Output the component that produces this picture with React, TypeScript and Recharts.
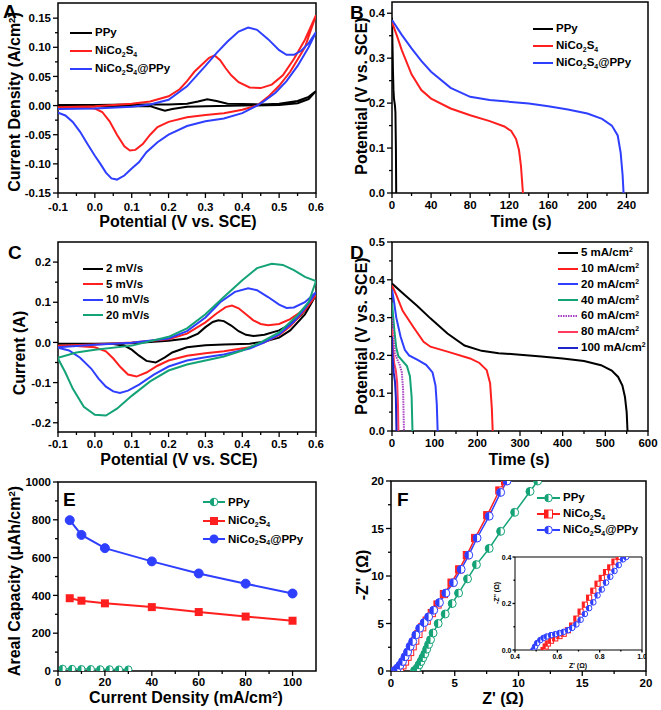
import React from 'react'
import { LineChart, Line, XAxis, YAxis, ReferenceArea, Legend } from 'recharts'

const FONT = "'Liberation Sans', Arial, Helvetica, sans-serif"
const BLACK = '#000000'
const RED = '#ff1f1f'
const BLUE = '#2f3fff'
const GREEN = '#14a277'
const PURPLE = '#a83fc2'
const PINK = '#ff3a5e'
const NAVY = '#1d25c9'

type Pt = [number, number]
const toXY = (a: Pt[]) => a.map(([x, y]) => ({ x, y }))

// ---- A: CV of the three electrodes ----
const aPpy: Pt[] = [[-0.1, 0.001], [0.0, 0.001], [0.1, 0.002], [0.2, 0.002], [0.25, 0.003], [0.28, 0.007], [0.305, 0.011], [0.33, 0.008], [0.36, 0.003], [0.45, 0.002], [0.5, 0.003], [0.55, 0.008], [0.58, 0.015], [0.6, 0.025],
  [0.58, 0.011], [0.55, 0.004], [0.5, 0.001], [0.4, 0.0], [0.3, -0.001], [0.25, -0.002], [0.21, -0.006], [0.19, -0.009], [0.17, -0.005], [0.15, -0.001], [0.1, -0.001], [0.0, -0.001], [-0.1, -0.001]]
const aNico: Pt[] = [[-0.1, -0.003], [0.0, -0.001], [0.1, 0.003], [0.15, 0.007], [0.2, 0.016], [0.23, 0.028], [0.25, 0.042], [0.27, 0.058], [0.29, 0.07], [0.31, 0.082], [0.325, 0.086], [0.34, 0.078], [0.355, 0.064], [0.37, 0.052], [0.39, 0.04], [0.42, 0.031], [0.45, 0.03], [0.48, 0.036], [0.51, 0.052], [0.54, 0.08], [0.57, 0.113], [0.6, 0.155],
  [0.57, 0.1], [0.53, 0.058], [0.5, 0.034], [0.47, 0.015], [0.44, 0.0], [0.4, -0.007], [0.35, -0.013], [0.3, -0.016], [0.25, -0.02], [0.2, -0.028], [0.17, -0.037], [0.15, -0.05], [0.13, -0.066], [0.11, -0.076], [0.095, -0.077], [0.08, -0.07], [0.06, -0.05], [0.04, -0.027], [0.02, -0.011], [0.0, -0.005], [-0.05, -0.003], [-0.1, -0.003]]
const aNicoPpy: Pt[] = [[-0.1, -0.006], [0.0, -0.005], [0.1, -0.002], [0.15, 0.002], [0.2, 0.01], [0.25, 0.033], [0.3, 0.068], [0.33, 0.09], [0.36, 0.11], [0.39, 0.127], [0.416, 0.134], [0.44, 0.13], [0.47, 0.114], [0.5, 0.095], [0.52, 0.087], [0.54, 0.087], [0.56, 0.094], [0.58, 0.107], [0.6, 0.126],
  [0.58, 0.1], [0.55, 0.068], [0.52, 0.042], [0.49, 0.022], [0.46, 0.008], [0.44, 0.0], [0.4, -0.013], [0.35, -0.022], [0.3, -0.027], [0.25, -0.035], [0.2, -0.05], [0.17, -0.063], [0.14, -0.08], [0.12, -0.097], [0.1, -0.108], [0.08, -0.12], [0.06, -0.127], [0.045, -0.125], [0.03, -0.115], [0.015, -0.1], [0.0, -0.086], [-0.02, -0.066], [-0.04, -0.045], [-0.06, -0.028], [-0.08, -0.017], [-0.1, -0.012]]

// ---- B: discharge curves ----
const bPpy: Pt[] = [[0, 0.39], [0.5, 0.33], [1, 0.27], [1.5, 0.23], [2, 0.21], [3, 0.195], [3.5, 0.18], [4, 0.1], [4.3, 0]]
const bNico: Pt[] = [[0, 0.38], [5, 0.35], [10, 0.318], [20, 0.264], [30, 0.229], [40, 0.21], [60, 0.188], [80, 0.173], [100, 0.16], [115, 0.148], [122, 0.138], [127, 0.12], [130, 0.095], [132, 0.06], [133, 0.03], [134, 0]]
const bNicoPpy: Pt[] = [[0, 0.385], [10, 0.352], [20, 0.322], [30, 0.294], [40, 0.27], [60, 0.234], [80, 0.214], [100, 0.207], [140, 0.199], [160, 0.193], [180, 0.186], [200, 0.177], [215, 0.165], [225, 0.15], [231, 0.128], [234, 0.09], [236, 0.04], [237, 0]]

// ---- C: CV at different scan rates ----
const c2: Pt[] = [[-0.1, -0.003], [0.0, -0.003], [0.1, -0.002], [0.2, 0.004], [0.25, 0.01], [0.28, 0.022], [0.3, 0.038], [0.32, 0.051], [0.335, 0.055], [0.35, 0.053], [0.37, 0.042], [0.39, 0.028], [0.41, 0.019], [0.43, 0.016], [0.46, 0.019], [0.5, 0.03], [0.53, 0.045], [0.56, 0.068], [0.6, 0.118],
  [0.57, 0.07], [0.53, 0.03], [0.5, 0.012], [0.46, 0.002], [0.42, -0.003], [0.35, -0.005], [0.3, -0.007], [0.25, -0.012], [0.21, -0.025], [0.19, -0.037], [0.165, -0.05], [0.14, -0.046], [0.12, -0.033], [0.1, -0.018], [0.08, -0.008], [0.05, -0.004], [0.0, -0.003], [-0.1, -0.003]]
const c5: Pt[] = [[-0.1, -0.008], [0.0, -0.005], [0.1, 0.0], [0.2, 0.008], [0.25, 0.022], [0.3, 0.05], [0.33, 0.072], [0.355, 0.088], [0.372, 0.092], [0.39, 0.085], [0.41, 0.07], [0.43, 0.055], [0.45, 0.046], [0.47, 0.043], [0.5, 0.046], [0.53, 0.058], [0.56, 0.077], [0.6, 0.117],
  [0.57, 0.08], [0.53, 0.04], [0.5, 0.018], [0.46, 0.0], [0.42, -0.012], [0.35, -0.022], [0.3, -0.027], [0.25, -0.033], [0.2, -0.045], [0.17, -0.058], [0.14, -0.075], [0.113, -0.085], [0.09, -0.08], [0.07, -0.062], [0.05, -0.04], [0.03, -0.022], [0.0, -0.012], [-0.05, -0.009], [-0.1, -0.008]]
const c10: Pt[] = [[-0.1, -0.012], [0.0, -0.006], [0.1, -0.001], [0.2, 0.01], [0.25, 0.028], [0.3, 0.062], [0.34, 0.1], [0.38, 0.126], [0.416, 0.135], [0.44, 0.13], [0.47, 0.113], [0.5, 0.094], [0.52, 0.086], [0.54, 0.087], [0.57, 0.1], [0.6, 0.125],
  [0.57, 0.085], [0.54, 0.052], [0.5, 0.02], [0.46, 0.0], [0.42, -0.015], [0.35, -0.03], [0.3, -0.037], [0.25, -0.045], [0.2, -0.06], [0.16, -0.08], [0.12, -0.105], [0.09, -0.12], [0.068, -0.126], [0.05, -0.122], [0.03, -0.11], [0.01, -0.09], [-0.01, -0.065], [-0.04, -0.038], [-0.07, -0.02], [-0.1, -0.013]]
const c20: Pt[] = [[-0.1, -0.038], [-0.05, -0.025], [0.0, -0.018], [0.1, -0.008], [0.2, 0.014], [0.25, 0.035], [0.3, 0.07], [0.35, 0.113], [0.4, 0.155], [0.44, 0.185], [0.48, 0.196], [0.51, 0.193], [0.54, 0.18], [0.57, 0.163], [0.6, 0.153],
  [0.58, 0.1], [0.55, 0.068], [0.5, 0.025], [0.45, 0.0], [0.4, -0.02], [0.35, -0.035], [0.3, -0.045], [0.25, -0.055], [0.2, -0.07], [0.15, -0.097], [0.1, -0.133], [0.06, -0.165], [0.03, -0.182], [0.0, -0.18], [-0.03, -0.16], [-0.06, -0.115], [-0.08, -0.075], [-0.1, -0.04]]

// ---- D: discharge at different current densities ----
const d5: Pt[] = [[0, 0.39], [30, 0.36], [60, 0.33], [90, 0.298], [130, 0.258], [170, 0.226], [210, 0.212], [250, 0.206], [300, 0.202], [350, 0.197], [400, 0.192], [450, 0.185], [490, 0.174], [515, 0.16], [530, 0.143], [540, 0.12], [546, 0.09], [550, 0.05], [552, 0]]
const d10: Pt[] = [[0, 0.385], [10, 0.36], [25, 0.318], [50, 0.275], [74, 0.236], [90, 0.223], [130, 0.21], [183, 0.192], [205, 0.18], [222, 0.161], [230, 0.126], [234, 0.06], [236, 0]]
const d20: Pt[] = [[0, 0.375], [5, 0.34], [10, 0.3], [20, 0.25], [30, 0.215], [40, 0.2], [60, 0.188], [80, 0.175], [95, 0.155], [102, 0.12], [105, 0.07], [107, 0]]
const d40: Pt[] = [[0, 0.34], [3, 0.3], [6, 0.26], [10, 0.22], [15, 0.198], [25, 0.185], [35, 0.172], [42, 0.145], [46, 0.09], [48, 0]]
const d60: Pt[] = [[0, 0.3], [3, 0.25], [7, 0.205], [12, 0.19], [18, 0.175], [23, 0.155], [26, 0.11], [28, 0]]
const d80: Pt[] = [[0, 0.27], [2, 0.22], [5, 0.18], [9, 0.16], [12, 0.13], [14, 0.07], [15, 0]]
const d100: Pt[] = [[0, 0.25], [1.5, 0.19], [4, 0.155], [7, 0.13], [9, 0.09], [10.5, 0]]

// ---- E: areal capacity ----
const eDensity = [5, 10, 20, 40, 60, 80, 100]
const eNicoPpy = [798, 720, 650, 580, 516, 462, 410]
const eNico = [385, 372, 358, 338, 312, 288, 266]
const ePpyDensity = [2, 6, 10, 14, 18, 22, 26, 30]
const ePpy = [12, 11, 10, 10, 9, 9, 8, 8]

// ---- F: Nyquist plots ----
const fPpy: Pt[] = [[1.85, 0.05], [2.05, 0.3], [2.2, 0.65], [2.35, 1.0], [2.5, 1.4], [2.65, 1.8], [2.8, 2.3], [2.95, 2.8], [3.1, 3.3], [3.3, 4.0], [3.7, 5.0], [4.25, 6.0], [4.8, 7.1], [5.3, 8.2], [6.0, 9.7], [6.7, 11.2], [7.7, 12.9], [8.6, 14.7], [9.7, 16.7], [10.9, 18.9], [11.5, 20]]
const fNico: Pt[] = [[0.45, 0.05], [0.7, 0.3], [0.9, 0.6], [1.1, 1.0], [1.3, 1.5], [1.5, 2.0], [1.7, 2.6], [1.9, 3.2], [2.15, 3.9], [2.45, 4.6], [2.8, 5.3], [3.2, 6.1], [3.65, 7.0], [4.15, 8.1], [4.75, 9.3], [5.35, 10.7], [5.95, 12.2], [6.6, 14.0], [7.55, 16.4], [8.5, 19.0], [8.95, 20]]
const fNicoPpy: Pt[] = [[0.3, 0.05], [0.5, 0.3], [0.7, 0.6], [0.9, 1.0], [1.1, 1.5], [1.3, 2.0], [1.5, 2.6], [1.7, 3.1], [1.95, 3.8], [2.25, 4.5], [2.6, 5.1], [2.95, 5.7], [3.35, 6.4], [3.8, 7.2], [4.3, 8.2], [4.9, 9.3], [5.5, 10.7], [6.1, 12.2], [6.75, 14.0], [7.7, 16.3], [8.6, 18.8], [9.1, 20]]
const iNico: Pt[] = [[0.535, 0.0], [0.545, 0.015], [0.555, 0.028], [0.57, 0.04], [0.59, 0.05], [0.61, 0.06], [0.63, 0.07], [0.65, 0.085], [0.67, 0.105], [0.69, 0.135], [0.71, 0.165], [0.73, 0.195], [0.75, 0.225], [0.77, 0.255], [0.79, 0.285], [0.81, 0.31], [0.83, 0.335], [0.85, 0.355], [0.87, 0.38], [0.89, 0.4]]
const iNicoPpy: Pt[] = [[0.487, 0.0], [0.495, 0.015], [0.505, 0.03], [0.52, 0.043], [0.535, 0.052], [0.55, 0.058], [0.57, 0.064], [0.59, 0.068], [0.61, 0.073], [0.63, 0.078], [0.65, 0.085], [0.67, 0.095], [0.69, 0.11], [0.71, 0.13], [0.73, 0.155], [0.75, 0.18], [0.77, 0.205], [0.79, 0.235], [0.81, 0.26], [0.83, 0.29], [0.85, 0.315], [0.87, 0.34], [0.89, 0.365], [0.91, 0.39], [0.925, 0.4]]

const Sub = ({ c }: { c: string }) => <span style={{ fontSize: '0.6em', position: 'relative', top: '0.4em' }}>{c}</span>
const Sup = ({ c }: { c: string }) => <span style={{ fontSize: '0.6em', position: 'relative', top: '-0.55em' }}>{c}</span>
const NICO = <>NiCo<Sub c="2" />S<Sub c="4" /></>
const NICOPPY = <>NiCo<Sub c="2" />S<Sub c="4" />@PPy</>

const fixed = (n: number) => (v: number) => v.toFixed(n)
const plain = (v: number) => String(v)

const makeTick = (dir: 'x' | 'y', majors: number[], fmt: (v: number) => string, fs: number, len: number, minLen: number, off: number) => (p: any) => {
  const v = p.payload.value
  const major = majors.some(m => Math.abs(m - v) < 1e-9)
  const l = major ? len : minLen
  const txt = { fill: '#000', fontSize: fs, fontWeight: 700, fontFamily: FONT }
  if (dir === 'x') {
    return (
      <g>
        <line x1={p.x} y1={p.y} x2={p.x} y2={p.y + l} stroke="#000" strokeWidth={1.3} />
        {major && <text x={p.x} y={p.y + off} textAnchor="middle" {...txt}>{fmt(v)}</text>}
      </g>
    )
  }
  return (
    <g>
      <line x1={p.x - l} y1={p.y} x2={p.x} y2={p.y} stroke="#000" strokeWidth={1.3} />
      {major && <text x={p.x - off} y={p.y} dy="0.36em" textAnchor="end" {...txt}>{fmt(v)}</text>}
    </g>
  )
}

const halfDot = (color: string, r: number, square = false) => (p: any) => {
  const { cx, cy, index } = p
  if (cx == null || cy == null) return <g key={index} />
  if (square) {
    return (
      <g key={index}>
        <rect x={cx - r} y={cy - r} width={2 * r} height={2 * r} fill="#fff" stroke={color} strokeWidth={1} />
        <rect x={cx - r} y={cy - r} width={r} height={2 * r} fill={color} />
      </g>
    )
  }
  return (
    <g key={index}>
      <circle cx={cx} cy={cy} r={r} fill="#fff" stroke={color} strokeWidth={1} />
      <path d={`M${cx},${cy - r} A${r},${r} 0 0 0 ${cx},${cy + r} Z`} fill={color} />
    </g>
  )
}

const squareDot = (color: string, s: number) => (p: any) => {
  const { cx, cy, index } = p
  if (cx == null || cy == null) return <g key={index} />
  return <rect key={index} x={cx - s / 2} y={cy - s / 2} width={s} height={s} fill={color} />
}

type Item = { label: React.ReactNode, color: string, dash?: string, marker?: 'half' | 'halfsq' | 'dot' | 'sq' }

function LegendBox({ items, rowH, lineW, fs = 11.5 }: { items: Item[], rowH: number, lineW: number, fs?: number }) {
  return (
    <div style={{ fontFamily: FONT, fontWeight: 700, fontSize: fs, color: '#000', lineHeight: 1 }}>
      {items.map((it, i) => (
        <div key={i} style={{ display: 'flex', alignItems: 'center', height: rowH, whiteSpace: 'nowrap' }}>
          <svg width={lineW} height={10} style={{ marginRight: 3, flex: 'none' }}>
            <line x1={0} y1={5} x2={lineW} y2={5} stroke={it.color} strokeWidth={2} strokeDasharray={it.dash} />
            {it.marker === 'dot' && <circle cx={lineW / 2} cy={5} r={4.5} fill={it.color} />}
            {it.marker === 'sq' && <rect x={lineW / 2 - 4} y={1} width={8} height={8} fill={it.color} />}
            {it.marker === 'half' && <g>
              <circle cx={lineW / 2} cy={5} r={3.8} fill="#fff" stroke={it.color} strokeWidth={1} />
              <path d={`M${lineW / 2},1.2 A3.8,3.8 0 0 0 ${lineW / 2},8.8 Z`} fill={it.color} />
            </g>}
            {it.marker === 'halfsq' && <g>
              <rect x={lineW / 2 - 4} y={1} width={8} height={8} fill="#fff" stroke={it.color} strokeWidth={1} />
              <rect x={lineW / 2 - 4} y={1} width={4} height={8} fill={it.color} />
            </g>}
          </svg>
          <span>{it.label}</span>
        </div>
      ))}
    </div>
  )
}

function legendEl(left: number, top: number, items: Item[], rowH: number, lineW: number) {
  return (
    <Legend layout="vertical" align="center" verticalAlign="middle"
      wrapperStyle={{ left, top, width: 'auto', height: 'auto' }}
      content={() => <LegendBox items={items} rowH={rowH} lineW={lineW} />} />
  )
}

function Panel({ box, plot, xDomain, yDomain, xMajor, xMinor, yMajor, yMinor, xFmt, yFmt, fs = 11.5, len = 5, minLen = 3, xOff = 16, yOff = 7, frameW = 1.5, legend, children }: any) {
  const xTicks = [...xMajor, ...xMinor].sort((a: number, b: number) => a - b)
  const yTicks = [...yMajor, ...yMinor].sort((a: number, b: number) => a - b)
  return (
    <div style={{ position: 'absolute', left: box.left, top: box.top }}>
      <LineChart width={box.width} height={box.height}
        margin={{ top: plot.top, right: box.width - plot.right, left: 0, bottom: 0 }}>
        <XAxis type="number" dataKey="x" domain={xDomain} ticks={xTicks} interval={0} allowDataOverflow
          height={box.height - plot.bottom} tickSize={0} tickMargin={0} axisLine={false} tickLine={false}
          tick={makeTick('x', xMajor, xFmt, fs, len, minLen, xOff)} />
        <YAxis type="number" domain={yDomain} ticks={yTicks} interval={0} allowDataOverflow
          width={plot.left} tickSize={0} tickMargin={0} axisLine={false} tickLine={false}
          tick={makeTick('y', yMajor, yFmt, fs, len, minLen, yOff)} />
        <ReferenceArea x1={xDomain[0]} x2={xDomain[1]} y1={yDomain[0]} y2={yDomain[1]}
          fill="none" fillOpacity={0} stroke="#000" strokeWidth={frameW} ifOverflow="visible" />
        {children}
        {legend}
      </LineChart>
    </div>
  )
}

const line = (key: string, data: Pt[], color: string, width = 2, dash?: string) => (
  <Line key={key} data={toXY(data)} dataKey="y" type="linear" stroke={color} strokeWidth={width}
    strokeDasharray={dash} dot={false} isAnimationActive={false} />
)

const titleStyle = (fs: number): React.CSSProperties => ({
  position: 'absolute', fontFamily: FONT, fontWeight: 700, fontSize: fs, color: '#000',
  whiteSpace: 'nowrap', lineHeight: 1,
})

function Title({ x, y, rot = false, fs = 16, children }: any) {
  return (
    <div style={{ ...titleStyle(fs), left: x, top: y, transform: `translate(-50%, -50%)${rot ? ' rotate(-90deg)' : ''}` }}>
      {children}
    </div>
  )
}

function Letter({ x, y, c }: { x: number, y: number, c: string }) {
  return <div style={{ ...titleStyle(19), left: x, top: y, lineHeight: '19px' }}>{c}</div>
}

const cvXMajor = [-0.1, 0, 0.1, 0.2, 0.3, 0.4, 0.5, 0.6]
const cvXMinor = [-0.05, 0.05, 0.15, 0.25, 0.35, 0.45, 0.55]

export default function App() {
  return (
    <div style={{ position: 'absolute', left: 0, top: 0, width: 661, height: 710, background: '#fff', overflow: 'hidden' }}>
      {/* A */}
      <Panel box={{ left: 0, top: 0, width: 330, height: 230 }} plot={{ left: 58, top: 3, right: 316, bottom: 193 }}
        xDomain={[-0.1, 0.6]} yDomain={[-0.15, 0.176]} xMajor={cvXMajor} xMinor={cvXMinor}
        yMajor={[-0.15, -0.1, -0.05, 0, 0.05, 0.1, 0.15]} yMinor={[-0.125, -0.075, -0.025, 0.025, 0.075, 0.125]}
        xFmt={fixed(1)} yFmt={fixed(2)} xOff={18}
        legend={legendEl(70, 24, [
          { label: 'PPy', color: BLACK }, { label: NICO, color: RED }, { label: NICOPPY, color: BLUE },
        ], 18, 22)}>
        {line('ppy', aPpy, BLACK)}
        {line('nico', aNico, RED)}
        {line('nicoppy', aNicoPpy, BLUE)}
      </Panel>

      {/* B */}
      <Panel box={{ left: 330, top: 0, width: 331, height: 230 }} plot={{ left: 62, top: 2, right: 318, bottom: 193 }}
        xDomain={[0, 262]} yDomain={[0, 0.425]} xMajor={[0, 40, 80, 120, 160, 200, 240]} xMinor={[20, 60, 100, 140, 180, 220]}
        yMajor={[0, 0.1, 0.2, 0.3, 0.4]} yMinor={[0.05, 0.15, 0.25, 0.35]}
        xFmt={plain} yFmt={fixed(1)}
        legend={legendEl(203, 20, [
          { label: 'PPy', color: BLACK }, { label: NICO, color: RED }, { label: NICOPPY, color: BLUE },
        ], 17, 20)}>
        {line('ppy', bPpy, BLACK)}
        {line('nico', bNico, RED)}
        {line('nicoppy', bNicoPpy, BLUE)}
      </Panel>

      {/* C */}
      <Panel box={{ left: 0, top: 230, width: 330, height: 230 }} plot={{ left: 58, top: 12, right: 316, bottom: 202 }}
        xDomain={[-0.1, 0.6]} yDomain={[-0.223, 0.25]} xMajor={cvXMajor} xMinor={cvXMinor}
        yMajor={[-0.2, -0.1, 0, 0.1, 0.2]} yMinor={[-0.15, -0.05, 0.05, 0.15]}
        xFmt={fixed(1)} yFmt={fixed(1)}
        legend={legendEl(83, 31, [
          { label: '2 mV/s', color: BLACK }, { label: '5 mV/s', color: RED },
          { label: '10 mV/s', color: BLUE }, { label: '20 mV/s', color: GREEN },
        ], 15.5, 20)}>
        {line('c2', c2, BLACK)}
        {line('c5', c5, RED)}
        {line('c10', c10, BLUE)}
        {line('c20', c20, GREEN)}
      </Panel>

      {/* D */}
      <Panel box={{ left: 330, top: 230, width: 331, height: 230 }} plot={{ left: 62, top: 12, right: 318, bottom: 201 }}
        xDomain={[0, 600]} yDomain={[0, 0.5]} xMajor={[0, 100, 200, 300, 400, 500, 600]} xMinor={[50, 150, 250, 350, 450, 550]}
        yMajor={[0, 0.1, 0.2, 0.3, 0.4, 0.5]} yMinor={[0.05, 0.15, 0.25, 0.35, 0.45]}
        xFmt={plain} yFmt={fixed(1)}
        legend={legendEl(228, 15, [
          { label: <>5 mA/cm<Sup c="2" /></>, color: BLACK },
          { label: <>10 mA/cm<Sup c="2" /></>, color: RED },
          { label: <>20 mA/cm<Sup c="2" /></>, color: BLUE },
          { label: <>40 mA/cm<Sup c="2" /></>, color: GREEN },
          { label: <>60 mA/cm<Sup c="2" /></>, color: PURPLE, dash: '1.5 1' },
          { label: <>80 mA/cm<Sup c="2" /></>, color: PINK },
          { label: <>100 mA/cm<Sup c="2" /></>, color: NAVY },
        ], 15.8, 20)}>
        {line('d5', d5, BLACK)}
        {line('d10', d10, RED)}
        {line('d20', d20, BLUE)}
        {line('d40', d40, GREEN)}
        {line('d60', d60, PURPLE, 2, '1.5 1')}
        {line('d80', d80, PINK)}
        {line('d100', d100, NAVY)}
      </Panel>

      {/* E */}
      <Panel box={{ left: 0, top: 460, width: 330, height: 250 }} plot={{ left: 58, top: 22, right: 316, bottom: 211 }}
        xDomain={[0, 110]} yDomain={[0, 1000]} xMajor={[0, 20, 40, 60, 80, 100]} xMinor={[10, 30, 50, 70, 90]}
        yMajor={[0, 200, 400, 600, 800, 1000]} yMinor={[100, 300, 500, 700, 900]}
        xFmt={plain} yFmt={plain} xOff={15}
        legend={legendEl(203, 33, [
          { label: 'PPy', color: GREEN, marker: 'half' },
          { label: NICO, color: RED, marker: 'sq' },
          { label: NICOPPY, color: BLUE, marker: 'dot' },
        ], 18.5, 22)}>
        <Line data={ePpyDensity.map((x, i) => ({ x, y: ePpy[i] }))} dataKey="y" type="linear" stroke={GREEN} strokeWidth={1.5}
          dot={halfDot(GREEN, 3.6)} isAnimationActive={false} />
        <Line data={eDensity.map((x, i) => ({ x, y: eNico[i] }))} dataKey="y" type="linear" stroke={RED} strokeWidth={2}
          dot={squareDot(RED, 8)} isAnimationActive={false} />
        <Line data={eDensity.map((x, i) => ({ x, y: eNicoPpy[i] }))} dataKey="y" type="linear" stroke={BLUE} strokeWidth={2}
          dot={{ r: 4.5, fill: BLUE, stroke: BLUE, strokeWidth: 1 }} isAnimationActive={false} />
      </Panel>

      {/* F */}
      <Panel box={{ left: 330, top: 460, width: 331, height: 250 }} plot={{ left: 61, top: 21, right: 316, bottom: 211 }}
        xDomain={[0, 20]} yDomain={[0, 20]} xMajor={[0, 5, 10, 15, 20]} xMinor={[2.5, 7.5, 12.5, 17.5]}
        yMajor={[0, 5, 10, 15, 20]} yMinor={[2.5, 7.5, 12.5, 17.5]}
        xFmt={plain} yFmt={plain}
        legend={legendEl(207, 30, [
          { label: 'PPy', color: GREEN, marker: 'half' },
          { label: NICO, color: RED, marker: 'halfsq' },
          { label: NICOPPY, color: BLUE, marker: 'half' },
        ], 16, 23)}>
        <Line data={toXY(fPpy)} dataKey="y" type="linear" stroke={GREEN} strokeWidth={1.5} dot={halfDot(GREEN, 4)} isAnimationActive={false} />
        <Line data={toXY(fNico)} dataKey="y" type="linear" stroke={RED} strokeWidth={1.5} dot={halfDot(RED, 3.6, true)} isAnimationActive={false} />
        <Line data={toXY(fNicoPpy)} dataKey="y" type="linear" stroke={BLUE} strokeWidth={1.5} dot={halfDot(BLUE, 4)} isAnimationActive={false} />
      </Panel>

      {/* F inset */}
      <Panel box={{ left: 490, top: 552, width: 156, height: 115 }} plot={{ left: 25, top: 5, right: 152, bottom: 98 }}
        xDomain={[0.4, 1.0]} yDomain={[0, 0.4]} xMajor={[0.4, 0.6, 0.8, 1.0]} xMinor={[0.5, 0.7, 0.9]}
        yMajor={[0, 0.2, 0.4]} yMinor={[0.1, 0.3]}
        xFmt={fixed(1)} yFmt={fixed(1)} fs={7} len={2.5} minLen={1.5} xOff={9} yOff={3.5} frameW={1}>
        <Line data={toXY(iNico)} dataKey="y" type="linear" stroke={RED} strokeWidth={1} dot={halfDot(RED, 2.6, true)} isAnimationActive={false} />
        <Line data={toXY(iNicoPpy)} dataKey="y" type="linear" stroke={BLUE} strokeWidth={1} dot={halfDot(BLUE, 2.8)} isAnimationActive={false} />
      </Panel>

      {/* axis titles */}
      <Title x={15} y={102} rot>Current Density (A/cm<Sup c="2" />)</Title>
      <Title x={178} y={222}>Potential (V vs. SCE)</Title>
      <Title x={362} y={96} rot>Potential (V vs. SCE)</Title>
      <Title x={521} y={222}>Time (s)</Title>
      <Title x={20} y={353} rot>Current (A)</Title>
      <Title x={179} y={460}>Potential (V vs. SCE)</Title>
      <Title x={362} y={336} rot>Potential (V vs. SCE)</Title>
      <Title x={519} y={460}>Time (s)</Title>
      <Title x={15} y={581} rot>Areal Capacity (μAh/cm<Sup c="2" />)</Title>
      <Title x={186} y={698}>Current Density (mA/cm<Sup c="2" />)</Title>
      <Title x={363} y={575} rot>-Z'' (Ω)</Title>
      <Title x={503} y={699}>Z' (Ω)</Title>
      <Title x={496} y={593} rot fs={7}>-Z'' (Ω)</Title>
      <Title x={578} y={665} fs={7}>Z' (Ω)</Title>

      {/* panel letters */}
      <Letter x={3} y={1.5} c="A" />
      <Letter x={350} y={2.5} c="B" />
      <Letter x={8} y={243} c="C" />
      <Letter x={350} y={243} c="D" />
      <Letter x={63} y={490} c="E" />
      <Letter x={397} y={490} c="F" />
    </div>
  )
}
